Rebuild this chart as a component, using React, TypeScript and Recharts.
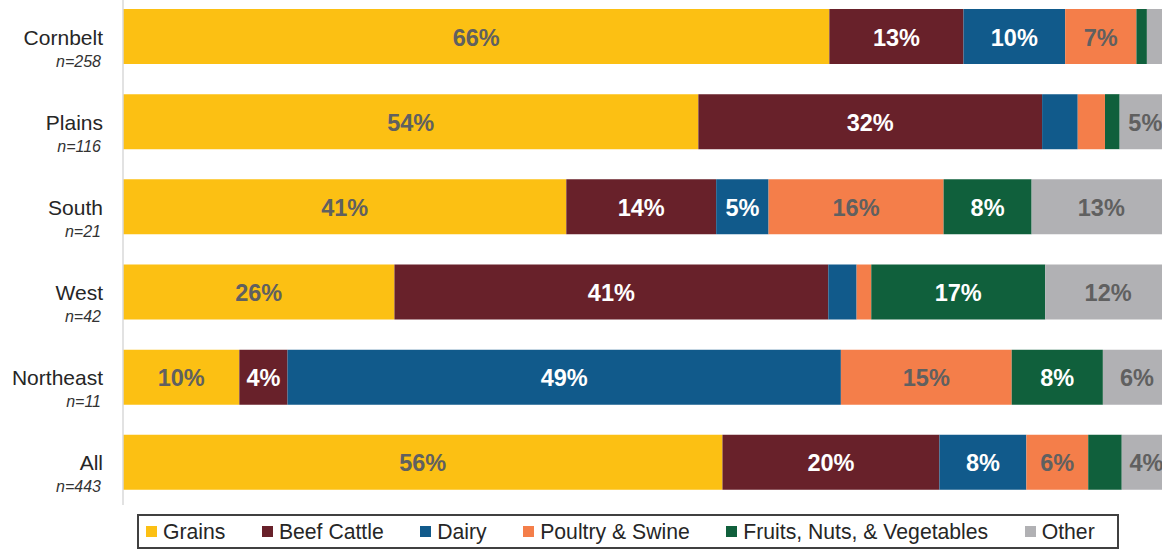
import React from "react";
import { BarChart, Bar, XAxis, YAxis, LabelList } from "recharts";

const regions = ["Cornbelt", "Plains", "South", "West", "Northeast", "All"];
const sampleSizes = ["n=258", "n=116", "n=21", "n=42", "n=11", "n=443"];

const seriesNames = ["Grains", "Beef Cattle", "Dairy", "Poultry & Swine", "Fruits, Nuts, & Vegetables", "Other"];
const seriesColors = ["#FCC013", "#68212A", "#115A8B", "#F47E4A", "#10603C", "#B1B1B4"];
const labelColors = ["#606060", "#FFFFFF", "#FFFFFF", "#606060", "#FFFFFF", "#606060"];

const grains = [67.4, 54.9, 42.3, 25.9, 11.1, 57.2];
const beef = [12.8, 32.8, 14.3, 41.4, 4.6, 20.7];
const dairy = [9.7, 3.4, 5.0, 2.7, 52.8, 8.3];
const poultry = [6.8, 2.6, 16.7, 1.4, 16.3, 5.9];
const fruits = [1.0, 1.4, 8.4, 16.6, 8.7, 3.2];
const other = [2.3, 5.0, 13.3, 12.0, 6.5, 4.7];

const grainsLabels = ["66%", "54%", "41%", "26%", "10%", "56%"];
const beefLabels = ["13%", "32%", "14%", "41%", "4%", "20%"];
const dairyLabels = ["10%", "", "5%", "", "49%", "8%"];
const poultryLabels = ["7%", "", "16%", "", "15%", "6%"];
const fruitsLabels = ["", "", "8%", "17%", "8%", ""];
const otherLabels = ["", "5%", "13%", "12%", "6%", "4%"];

const seriesValues = [grains, beef, dairy, poultry, fruits, other];
const seriesLabels = [grainsLabels, beefLabels, dairyLabels, poultryLabels, fruitsLabels, otherLabels];

const FONT = '"Liberation Sans", Arial, sans-serif';

const data = regions.map((r, i) => {
  const row: any = { region: r, n: sampleSizes[i] };
  seriesValues.forEach((vals, s) => {
    row["s" + s] = vals[i];
    row["l" + s] = seriesLabels[s][i];
  });
  return row;
});

const RegionTick = (props: any) => {
  const { y, payload } = props;
  const idx = regions.indexOf(payload.value);
  return (
    <g>
      <text x={103} y={y + 8} textAnchor="end" fontFamily={FONT} fontSize={21} fill="#262626">
        {payload.value}
      </text>
      <text x={101} y={y + 30} textAnchor="end" fontFamily={FONT} fontSize={16} fontStyle="italic" fill="#333333">
        {sampleSizes[idx]}
      </text>
    </g>
  );
};

const makeLabel = (color: string) => (props: any) => {
  const { x, y, width, height, value } = props;
  if (!value) return null;
  return (
    <text
      x={x + width / 2}
      y={y + height / 2 + 9}
      textAnchor="middle"
      fontFamily={FONT}
      fontSize={23.5}
      fontWeight="bold"
      fill={color}
    >
      {value}
    </text>
  );
};

export default function App() {
  return (
    <div style={{ position: "absolute", left: 0, top: 0, width: 1162, height: 550, overflow: "hidden", background: "#fff" }}>
      <div style={{ position: "absolute", left: 0, top: -6 }}>
        <BarChart
          width={1171}
          height={511}
          data={data}
          layout="vertical"
          margin={{ top: 0, right: 0, bottom: 0, left: 0 }}
          barCategoryGap={15}
        >
          <XAxis type="number" domain={[0, 100]} allowDataOverflow hide />
          <YAxis
            type="category"
            dataKey="region"
            width={123}
            tick={<RegionTick />}
            tickLine={false}
            axisLine={{ stroke: "#D9D9D9", strokeWidth: 1.5 }}
            interval={0}
          />
          {seriesNames.map((name, s) => (
            <Bar
              key={name}
              dataKey={"s" + s}
              name={name}
              stackId="a"
              fill={seriesColors[s]}
              isAnimationActive={false}
            >
              <LabelList dataKey={"l" + s} content={makeLabel(labelColors[s])} />
            </Bar>
          ))}
        </BarChart>
      </div>
      <div
        style={{
          position: "absolute",
          left: 137,
          top: 514,
          width: 982,
          height: 35,
          boxSizing: "border-box",
          border: "2px solid #404040",
          display: "flex",
          alignItems: "center",
          paddingLeft: 7,
          gap: 36.5,
          fontFamily: FONT,
          fontSize: 21.2,
          color: "#262626",
          whiteSpace: "nowrap",
        }}
      >
        {seriesNames.map((name, s) => (
          <div key={name} style={{ display: "flex", alignItems: "center" }}>
            <span style={{ display: "inline-block", width: 11, height: 11, background: seriesColors[s], marginRight: 6 }} />
            <span style={{ lineHeight: "24px" }}>{name}</span>
          </div>
        ))}
      </div>
    </div>
  );
}
